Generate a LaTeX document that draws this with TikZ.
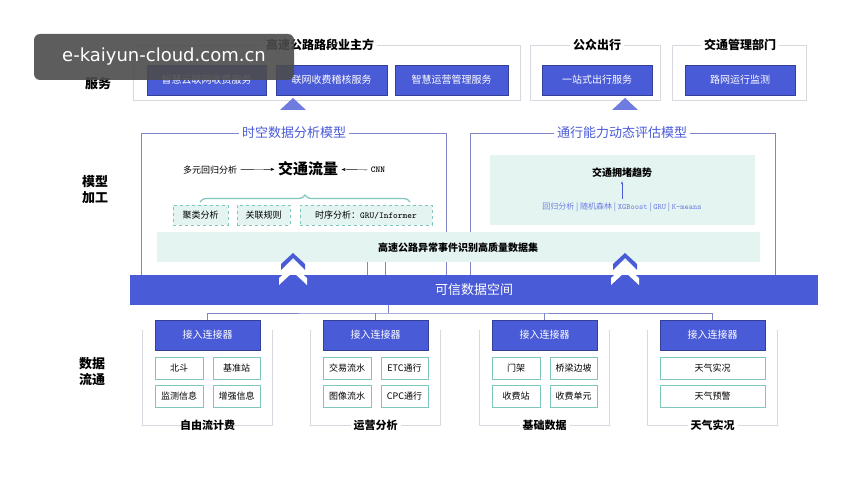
\documentclass[tikz,border=0pt]{standalone}
\usepackage{fontspec}
\setmainfont{Noto Sans CJK SC}
\newfontfamily\wm{DejaVu Sans}
\usetikzlibrary{decorations.pathreplacing,arrows.meta}
\definecolor{bl}{HTML}{4A5BD8}
\definecolor{fr}{HTML}{D6D9E0}
\definecolor{fr2}{HTML}{7F86C8}
\definecolor{tl}{HTML}{E3F4F1}
\definecolor{tlb}{HTML}{7FC7BE}
\definecolor{tt}{HTML}{4A5BD8}
\begin{document}
\begin{tikzpicture}[x=1pt,y=-1pt,
 bbox/.style={fill=bl,draw=bl!70!black,minimum height=30pt,text=white,font=\fontsize{10}{12}\selectfont,inner sep=0pt},
 sbox/.style={draw=tlb,fill=white,minimum height=22pt,font=\fontsize{9}{11}\selectfont,inner sep=0pt},
 dbox/.style={draw=tlb,dashed,fill=tl,minimum height=20pt,font=\fontsize{9}{11}\selectfont,inner sep=0pt},
 frame/.style={draw=fr,line width=0.8pt},
 title/.style={fill=white,font=\fontsize{12}{14}\selectfont\bfseries,inner sep=3pt},
 rlab/.style={font=\fontsize{13}{16}\selectfont\bfseries,align=center},
 chev/.style={fill=bl,draw=none}]
\useasboundingbox (0,0) rectangle (857,500);
\fill[white] (0,0) rectangle (857,500);
% ---- top row
\node[rlab] (l1) at (98,84) {服务};
\draw[frame] (133,45) rectangle (520,100);
\node[title] (g1) at (320,45) {高速公路路段业主方};
\draw[frame] (530,45) rectangle (660,100);
\node[title] (g2) at (597,45) {公众出行};
\draw[frame] (672,45) rectangle (806,100);
\node[title] (g3) at (740,45) {交通管理部门};
\node[bbox,minimum width=119pt] (s1) at (206.5,80) {智慧云联网收费服务};
\node[bbox,minimum width=111pt] (s2) at (331.5,80) {联网收费稽核服务};
\node[bbox,minimum width=113pt] (s3) at (451.5,80) {智慧运营管理服务};
\node[bbox,minimum width=110pt] (s4) at (597,80) {一站式出行服务};
\node[bbox,minimum width=110pt] (s5) at (740,80) {路网运行监测};
\fill[bl!80] (280,110) -- (293,98) -- (306,110) -- cycle;
\fill[bl!80] (612,110) -- (625,98) -- (638,110) -- cycle;
% ---- middle
\node[rlab] (l2) at (95,190) {模型\\加工};
\draw[fr2,line width=0.8pt] (141,275) -- (141,133) -- (446,133) -- (446,275);
\node[title,text=tt,font=\fontsize{13}{15}\selectfont] (m1) at (294,133) {时空数据分析模型};
\draw[fr2,line width=0.8pt] (470,275) -- (470,133) -- (775,133) -- (775,275);
\node[title,text=tt,font=\fontsize{13}{15}\selectfont] (m2) at (622,133) {通行能力动态评估模型};
\node[font=\fontsize{9}{11}\selectfont] (a1) at (210,170) {多元回归分析};
\node[font=\fontsize{15}{18}\selectfont\bfseries] (tf) at (308,169) {交通流量};
\node[font=\ttfamily\bfseries\fontsize{9}{11}\selectfont] (cnn) at (378,170) {CNN};
\draw[-{Stealth[length=4pt]}] (a1) -- (tf);
\draw[-{Stealth[length=4pt]}] (cnn) -- (tf);
\draw[tlb,line width=1.2pt,decorate,decoration={brace,amplitude=7pt}] (200,202) -- (410,202);
\node[dbox,minimum width=55pt] (d1) at (200.5,215) {聚类分析};
\node[dbox,minimum width=53pt] (d2) at (263.5,215) {关联规则};
\node[dbox,minimum width=132pt] (d3) at (366,215) {时序分析：\texttt{GRU/Informer}};
\fill[tl] (490,155) rectangle (755,225);
\node[font=\fontsize{10}{12}\selectfont\bfseries] (tj) at (622,173) {交通拥堵趋势};
\node[font=\fontsize{8}{10}\selectfont,text=tt!80] (al) at (622,207) {回归分析 | 随机森林 | \texttt{XGBoost} | \texttt{GRU} | \texttt{K-means}};
\draw[-{Stealth[length=3pt]},tt] (al.north) -- (tj.south);
\fill[tl] (157,232) rectangle (760,262);
\node[font=\fontsize{10}{12}\selectfont\bfseries] (ds) at (458,248) {高速公路异常事件识别高质量数据集};
\draw[fr2] (367,262) -- (367,275) (385,262) -- (385,275);
\node[fill=bl,minimum width=688pt,minimum height=30pt,text=white,font=\fontsize{13}{15}\selectfont,inner sep=0pt] (tr) at (474,290) {可信数据空间};
\foreach \x in {293,625}{
 \fill[white] (\x-14,285) -- (\x,272) -- (\x+14,285) -- (\x+14,278) -- (\x,266) -- (\x-14,278) -- cycle;
 \fill[bl] (\x-12,270) -- (\x,258) -- (\x+12,270) -- (\x+12,264) -- (\x,253) -- (\x-12,264) -- cycle;}
% ---- bottom
\node[rlab] (l3) at (92,372) {数据\\流通};
\foreach \cx/\t/\n in {207.5/自由流计费/1,375.5/运营分析/2,544.5/基础数据/3,712.5/天气实况/4}{
 \draw[frame] (\cx-65,330) -- (\cx-65,425) -- (\cx-25,425);
 \draw[frame] (\cx+65,330) -- (\cx+65,425) -- (\cx+25,425);
 \node[font=\fontsize{11}{13}\selectfont\bfseries] (t\n) at (\cx,425) {\t};
 \node[bbox,minimum width=105pt] (c\n) at (\cx,335) {接入连接器};
}
\coordinate (hub) at (388,313);
\draw[fr2] (tr.south -| hub) -- (hub);
\draw[fr2] (c1.north) |- (hub) -| (c4.north);
\draw[fr2] (c2.north) -- (c2.north |- hub);
\draw[fr2] (c3.north) -- (c3.north |- hub);
\node[sbox,minimum width=48pt] (b1) at (179,368) {北斗};
\node[sbox,minimum width=47pt] (b2) at (236.5,368) {基准站};
\node[sbox,minimum width=48pt] (b3) at (179,396) {监测信息};
\node[sbox,minimum width=47pt] (b4) at (236.5,396) {增强信息};
\node[sbox,minimum width=48pt] (b5) at (347,368) {交易流水};
\node[sbox,minimum width=47pt] (b6) at (404.5,368) {ETC通行};
\node[sbox,minimum width=48pt] (b7) at (347,396) {图像流水};
\node[sbox,minimum width=47pt] (b8) at (404.5,396) {CPC通行};
\node[sbox,minimum width=48pt] (b9) at (516,368) {门架};
\node[sbox,minimum width=47pt] (b10) at (573.5,368) {桥梁边坡};
\node[sbox,minimum width=48pt] (b11) at (516,396) {收费站};
\node[sbox,minimum width=47pt] (b12) at (573.5,396) {收费单元};
\node[sbox,minimum width=105pt] (b13) at (712.5,368) {天气实况};
\node[sbox,minimum width=105pt] (b14) at (712.5,396) {天气预警};
% watermark
\node[fill=black!70,opacity=0.9,text opacity=1,rounded corners=6pt,minimum width=260pt,minimum height=46pt,text=white,font=\wm\fontsize{18}{20}\selectfont,inner sep=0pt] (wm) at (164,57) {e-kaiyun-cloud.com.cn};
\end{tikzpicture}
\end{document}
